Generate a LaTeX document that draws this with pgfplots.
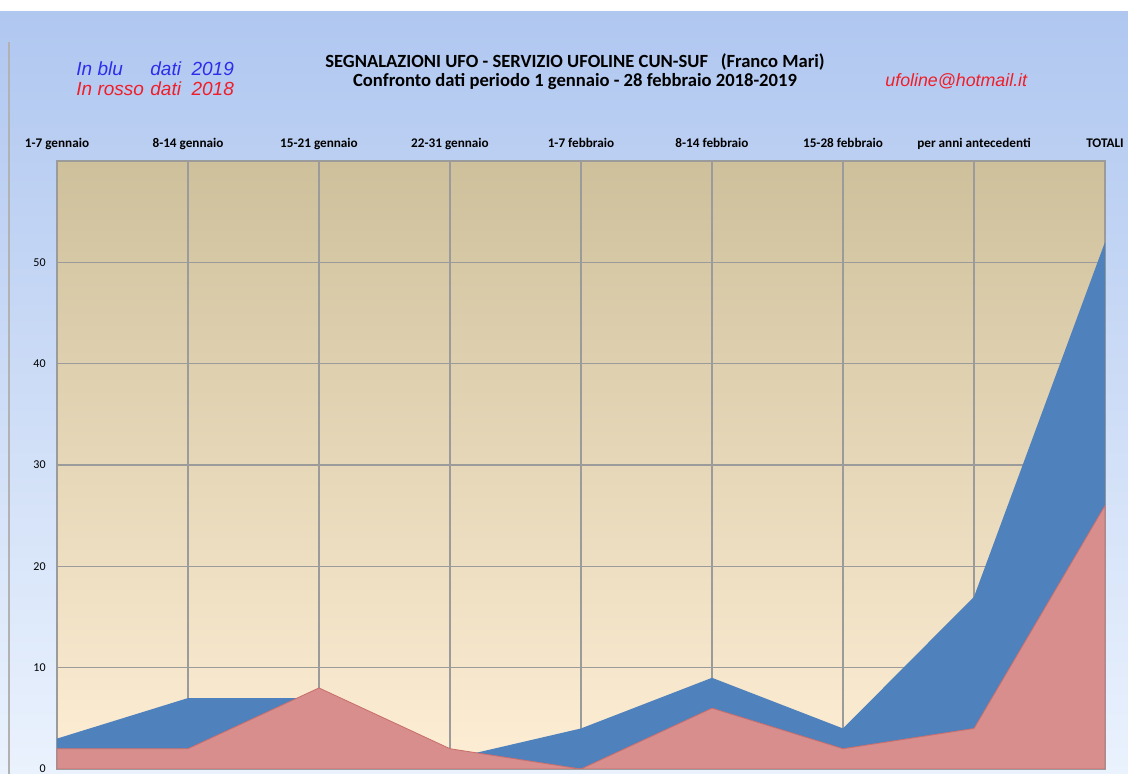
\documentclass[border=0pt]{standalone}
\usepackage{fontspec}
\setmainfont{Carlito}
\newfontfamily\arialfont{Liberation Sans}
\usepackage{pgfplots}
\pgfplotsset{compat=1.18}

\definecolor{bgtop}{RGB}{176,199,240}
\definecolor{bgbot}{RGB}{234,242,253}
\definecolor{pltop}{RGB}{207,192,156}
\definecolor{plbot}{RGB}{253,238,213}
\definecolor{blu}{RGB}{79,129,189}
\definecolor{ros}{RGB}{215,142,140}
\definecolor{rosedge}{RGB}{200,110,108}
\definecolor{grd}{RGB}{155,155,155}
\definecolor{txtblu}{RGB}{45,45,235}
\definecolor{txtros}{RGB}{240,30,40}

\begin{document}
\begin{tikzpicture}[x=0.5pt,y=0.5pt]
% sfondo (coordinate in pixel, y verso l'alto)
\fill[white] (0,0) rectangle (1128,774);
\shade[top color=bgtop, bottom color=bgbot] (0,0) rectangle (1128,762);
\draw[gray!60, line width=1pt] (9,0) -- (9,732);

\begin{axis}[
    at={(28.5pt,2.5pt)}, anchor=origin,
    scale only axis,
    width=524pt, height=304pt,
    xmin=0, xmax=8, ymin=0, ymax=60,
    xtick={0,...,8},
    xticklabels={1-7 gennaio,8-14 gennaio,15-21 gennaio,22-31 gennaio,1-7 febbraio,8-14 febbraio,15-28 febbraio,per anni antecedenti,TOTALI},
    xticklabel pos=upper,
    xticklabel style={font=\bfseries\fontsize{6.6}{7}\selectfont, anchor=base, inner sep=0pt, yshift=6.5pt},
    ytick={0,10,...,50},
    yticklabel style={font=\fontsize{6}{7}\selectfont, anchor=east, inner sep=0pt, xshift=-5.5pt},
    /pgf/number format/assume math mode=true,
    major tick length=0pt,
    grid=major,
    grid style={grd, line width=0.6pt},
    axis line style={grd, line width=0.6pt},
    axis background/.style={shade, top color=pltop, bottom color=plbot},
]
\addplot[draw=none, fill=blu] coordinates {
  (0,3) (1,7) (2,7) (3,1) (4,4) (5,9) (6,4) (7,17) (8,52)
} \closedcycle;
\addplot[draw=rosedge, line width=0.4pt, fill=ros] coordinates {
  (0,2) (1,2) (2,8) (3,2) (4,0) (5,6) (6,2) (7,4) (8,26)
} \closedcycle;
\end{axis}

% titolo
\node[font=\bfseries\fontsize{9.3}{10}\selectfont] at (575,712) {SEGNALAZIONI UFO - SERVIZIO UFOLINE CUN-SUF~~~(Franco Mari)};
\node[font=\bfseries\fontsize{9.3}{10}\selectfont] at (575,692) {Confronto dati periodo 1 gennaio - 28 febbraio 2018-2019};

% legenda scritta
\node[font=\arialfont\itshape\fontsize{9.5}{10}\selectfont, text=txtblu, anchor=west, inner sep=0pt] at (76,705) {In blu};
\node[font=\arialfont\itshape\fontsize{9.5}{10}\selectfont, text=txtblu, anchor=west, inner sep=0pt] at (150,705) {dati~~2019};
\node[font=\arialfont\itshape\fontsize{9.5}{10}\selectfont, text=txtros, anchor=west, inner sep=0pt] at (76,685) {In rosso};
\node[font=\arialfont\itshape\fontsize{9.5}{10}\selectfont, text=txtros, anchor=west, inner sep=0pt] at (150,685) {dati~~2018};
\node[font=\arialfont\itshape\fontsize{8.9}{10}\selectfont, text=txtros, anchor=west, inner sep=0pt] at (885,693) {ufoline@hotmail.it};

\pgfresetboundingbox
\useasboundingbox (0,0) rectangle (1128,774);
\end{tikzpicture}
\end{document}
